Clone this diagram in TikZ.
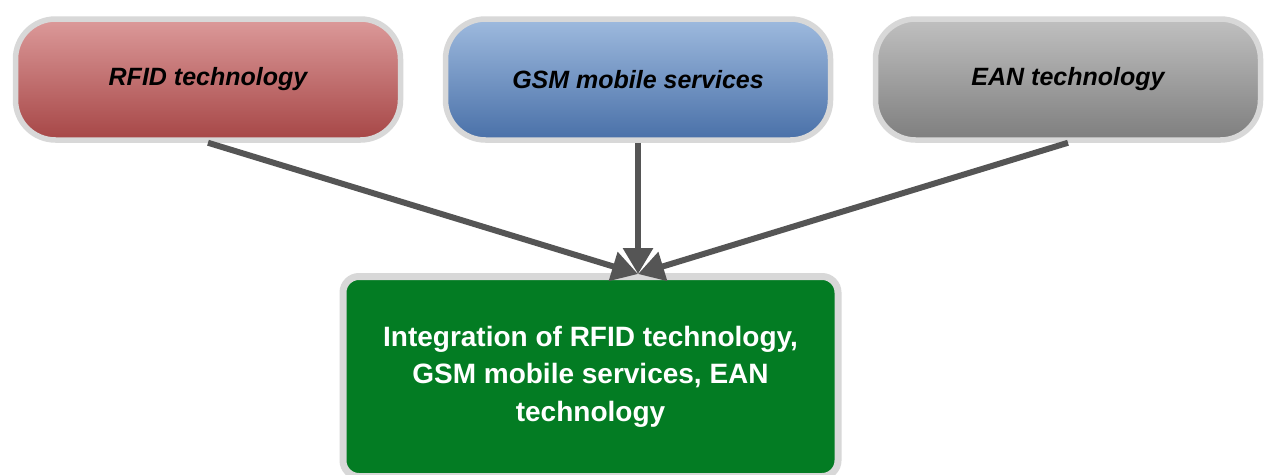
\documentclass[tikz,border=0pt]{standalone}
\usepackage{fontspec}
\setmainfont{Liberation Sans}
\usetikzlibrary{arrows.meta}
\definecolor{rimgray}{HTML}{D8D8D8}
\definecolor{arrowgray}{HTML}{555555}
\definecolor{redtop}{HTML}{DC9A9A}
\definecolor{redbot}{HTML}{A64646}
\definecolor{bluetop}{HTML}{9EBADE}
\definecolor{bluebot}{HTML}{4970A8}
\definecolor{graytop}{HTML}{C0C0C0}
\definecolor{graybot}{HTML}{7E7E7E}
\definecolor{dkgreen}{HTML}{037C23}
\tikzset{
  x=1pt, y=1pt,
  pill/.style={draw=rimgray, line width=5.5pt, rounded corners=40pt,
    minimum width=385pt, minimum height=121pt, inner sep=0pt,
    font=\fontsize{25}{30}\selectfont\bfseries\itshape, text=black},
  result/.style={draw=rimgray, line width=7pt, rounded corners=16pt,
    fill=dkgreen, minimum width=495pt, minimum height=200pt, inner sep=0pt,
    align=center, text=white, font=\fontsize{28}{37.5}\selectfont\bfseries},
  feed/.style={draw=arrowgray, line width=6pt,
    -{Triangle[length=26pt,width=29pt]}}
}
\begin{document}
\begin{tikzpicture}
\useasboundingbox[fill=white] (0,0) rectangle (1272,-474);
\begin{scope}
\clip (0,0) rectangle (1272,-474);
\node[result] (integ) at (590.5,-376.5)
  {Integration of RFID technology,\\ GSM mobile services, EAN\\ technology};
\end{scope}
\node[pill, top color=redtop, bottom color=redbot] (rfid) at (208,-79.5) {RFID technology};
\node[pill, top color=bluetop, bottom color=bluebot] (gsm) at (638,-79.5) {GSM mobile services};
\node[pill, top color=graytop, bottom color=graybot] (ean) at (1068,-79.5) {EAN technology};
\coordinate (tip) at (638,-274);
\draw[feed] (rfid.south) -- (tip);
\draw[feed] (gsm.south) -- (tip);
\draw[feed] (ean.south) -- (tip);
\end{tikzpicture}
\end{document}
